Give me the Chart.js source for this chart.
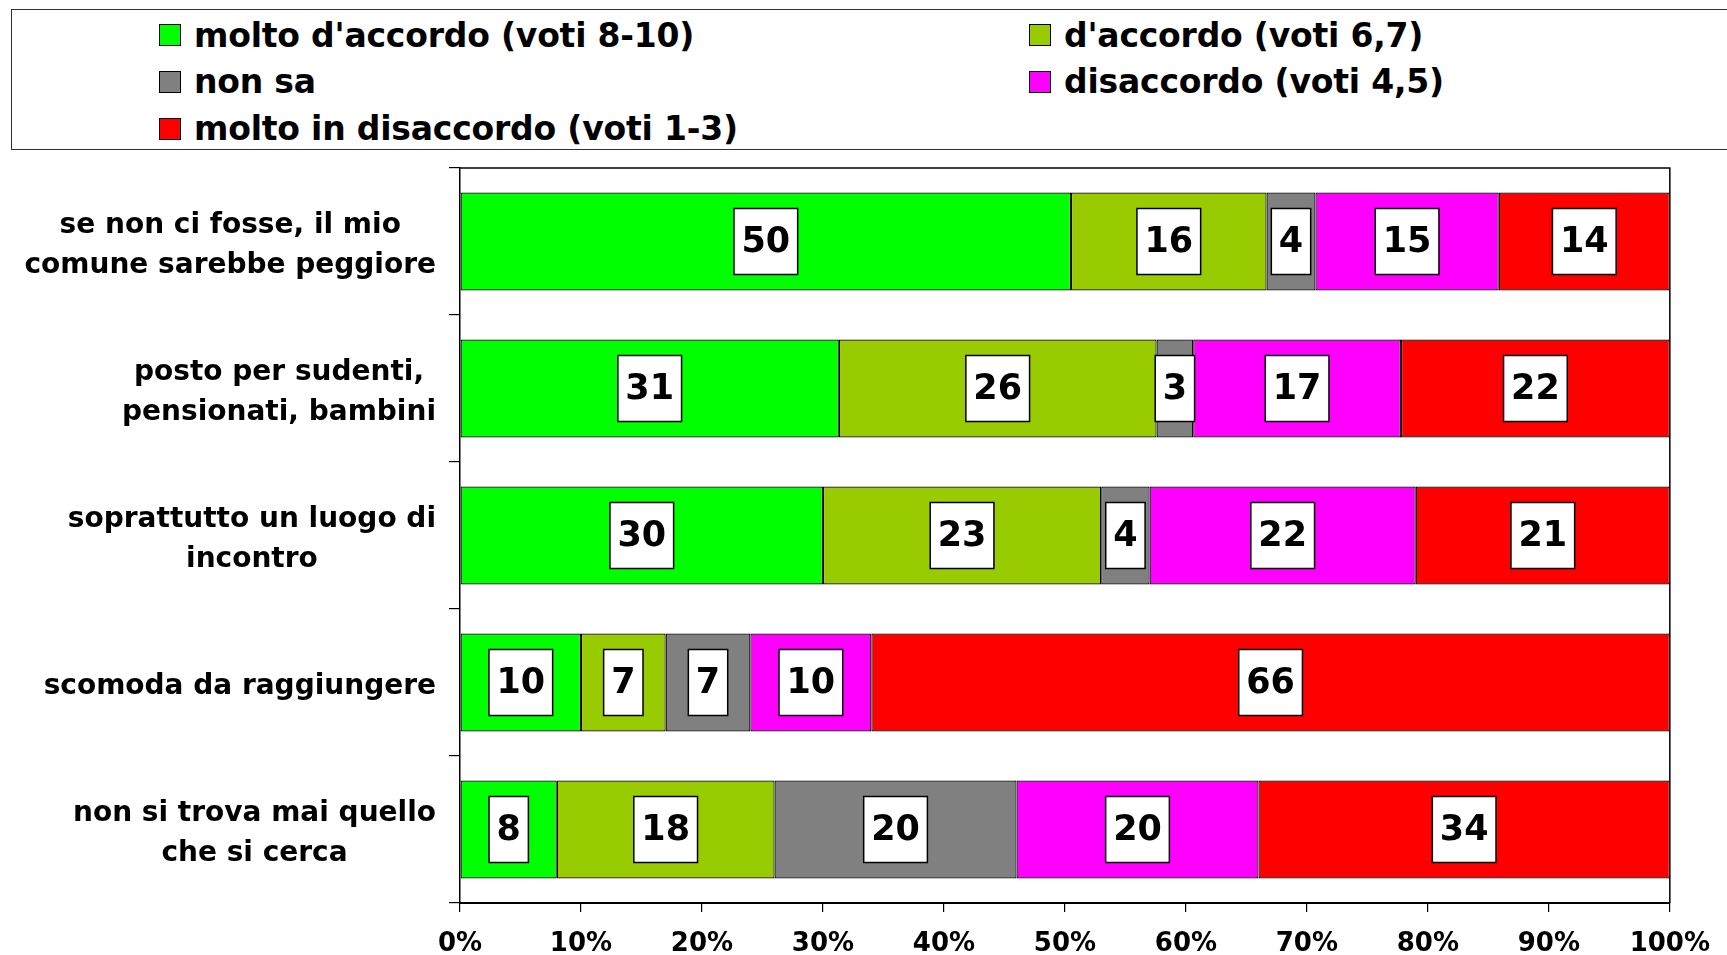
<!DOCTYPE html>
<html lang="it">
<head>
<meta charset="utf-8">
<title>Giudizi sul mercato</title>
<script src="https://cdn.jsdelivr.net/npm/chart.js@4.4.1/dist/chart.umd.min.js"></script>
<style>
  html, body { margin: 0; padding: 0; background: #ffffff; }
  #wrap { position: relative; width: 1727px; height: 955px; overflow: hidden; }
  #chart { position: absolute; left: 0; top: 0; }
  #legendBox {
    position: absolute; left: 11px; top: 9px; width: 1730px; height: 141px;
    border: 1.5px solid #303030; box-sizing: border-box; background: #fff;
  }
  .lg-item {
    position: absolute; height: 40px; display: flex; align-items: center;
    font-family: "DejaVu Sans", sans-serif; font-weight: bold; font-size: 33px;
    color: #000; white-space: nowrap; letter-spacing: -0.2px;
  }
  .lg-swatch {
    width: 22px; height: 22px; box-sizing: border-box;
    border: 1.5px solid #000; margin-right: 13px; flex: none;
  }
</style>
</head>
<body>
<div id="wrap">
  <canvas id="chart" width="1727" height="955"></canvas>
  <div id="legendBox"></div>
</div>
<script>
// Statements (one bar each)
const categories = [
  ["se non ci fosse, il mio", "comune sarebbe peggiore"],
  ["posto per sudenti,", "pensionati, bambini"],
  ["soprattutto un luogo di", "incontro"],
  ["scomoda da raggiungere"],
  ["non si trova mai quello", "che si cerca"]
];

// Answer groups, in stacking order
const seriesNames = [
  "molto d'accordo (voti 8-10)",
  "d'accordo (voti 6,7)",
  "non sa",
  "disaccordo (voti 4,5)",
  "molto in disaccordo (voti 1-3)"
];
const seriesColors = ["#00ff00", "#99cc00", "#808080", "#ff00ff", "#ff0000"];

// Answer shares per statement
const moltoAccordo    = [50, 31, 30, 10, 8];
const accordo         = [16, 26, 23, 7, 18];
const nonSa           = [4, 3, 4, 7, 20];
const disaccordo      = [15, 17, 22, 10, 20];
const moltoDisaccordo = [14, 22, 21, 66, 34];

const seriesValues = [moltoAccordo, accordo, nonSa, disaccordo, moltoDisaccordo];

// X axis ticks
const xTicks = [0, 10, 20, 30, 40, 50, 60, 70, 80, 90, 100];

const FONT = '"DejaVu Sans", sans-serif';

// Each bar is scaled to 100% of its row total
const rowTotals = categories.map((_, i) =>
  seriesValues.reduce((s, arr) => s + arr[i], 0));

const datasets = seriesNames.map((name, k) => ({
  label: name,
  data: seriesValues[k].map((v, i) => v / rowTotals[i] * 100),
  rawValues: seriesValues[k],
  backgroundColor: seriesColors[k],
  borderColor: "#000000",
  borderWidth: 1.2,
  borderSkipped: false,
  barPercentage: 1.0,
  categoryPercentage: 0.667
}));

// Boxed value labels in the middle of each segment
const valueBoxes = {
  id: "valueBoxes",
  afterDatasetsDraw(chart) {
    const ctx = chart.ctx;
    ctx.save();
    ctx.font = "bold 35px " + FONT;
    ctx.textAlign = "center";
    ctx.textBaseline = "middle";
    chart.data.datasets.forEach((ds, k) => {
      const meta = chart.getDatasetMeta(k);
      meta.data.forEach((bar, i) => {
        const txt = String(ds.rawValues[i]);
        const cx = (bar.x + bar.base) / 2;
        const cy = bar.y;
        const w = ctx.measureText(txt).width + 15;
        const h = 66;
        ctx.fillStyle = "#ffffff";
        ctx.fillRect(cx - w / 2, cy - h / 2, w, h);
        ctx.lineWidth = 1.5;
        ctx.strokeStyle = "#000000";
        ctx.strokeRect(cx - w / 2, cy - h / 2, w, h);
        ctx.fillStyle = "#000000";
        ctx.fillText(txt, cx, cy + 1);
      });
    });
    ctx.restore();
  }
};

// Category labels: each block right-aligned to the axis, lines centred on each other
const categoryLabels = {
  id: "categoryLabels",
  afterDraw(chart) {
    const ctx = chart.ctx;
    const yScale = chart.scales.y;
    const rightEdge = yScale.right - 24;
    const lineGap = 40;
    ctx.save();
    ctx.font = "bold 28px " + FONT;
    ctx.fillStyle = "#000000";
    ctx.textAlign = "center";
    ctx.textBaseline = "middle";
    categories.forEach((lines, i) => {
      const cy = yScale.getPixelForTick(i) + 4;
      const maxW = Math.max(...lines.map(t => ctx.measureText(t).width));
      const cx = rightEdge - maxW / 2;
      const y0 = cy - (lines.length - 1) * lineGap / 2;
      lines.forEach((t, j) => ctx.fillText(t, cx, y0 + j * lineGap));
    });
    ctx.restore();
  }
};

// Top and right edges of the plot frame
const plotFrame = {
  id: "plotFrame",
  afterDraw(chart) {
    const a = chart.chartArea;
    const ctx = chart.ctx;
    ctx.save();
    ctx.strokeStyle = "#000000";
    ctx.lineWidth = 1.5;
    ctx.beginPath();
    ctx.moveTo(a.left, a.top);
    ctx.lineTo(a.right, a.top);
    ctx.lineTo(a.right, a.bottom);
    ctx.stroke();
    ctx.restore();
  }
};

new Chart(document.getElementById("chart"), {
  type: "bar",
  data: { labels: categories, datasets },
  options: {
    indexAxis: "y",
    responsive: false,
    animation: false,
    events: [],
    layout: { padding: { top: 168, right: 55, left: 0, bottom: 0 } },
    plugins: { legend: { display: false }, tooltip: { enabled: false } },
    scales: {
      x: {
        stacked: true,
        min: 0,
        max: 100,
        afterBuildTicks(scale) { scale.ticks = xTicks.map(v => ({ value: v })); },
        afterFit(scale) { scale.height = 52; },
        grid: {
          drawOnChartArea: false, drawTicks: true, tickLength: 9,
          color: "#000000", lineWidth: 1.2
        },
        border: { display: true, color: "#000000", width: 2 },
        ticks: {
          color: "#000000",
          font: { family: FONT, weight: "bold", size: 26 },
          padding: 17,
          maxRotation: 0,
          callback: v => v + "%"
        }
      },
      y: {
        stacked: true,
        afterFit(scale) { scale.width = 460; },
        grid: {
          offset: true, drawOnChartArea: false, drawTicks: true, tickLength: 11,
          color: "#000000", lineWidth: 1.2
        },
        border: { display: true, color: "#000000", width: 1.5 },
        ticks: { display: false }
      }
    }
  },
  plugins: [valueBoxes, categoryLabels, plotFrame]
});

// Two-column legend inside a framed box
const legendBox = document.getElementById("legendBox");
const colLeft = [147, 1017];
const rowCenters = [25, 71.5, 118.5];
seriesNames.forEach((name, k) => {
  const item = document.createElement("div");
  item.className = "lg-item";
  item.style.left = colLeft[k % 2] + "px";
  item.style.top = (rowCenters[Math.floor(k / 2)] - 20) + "px";
  const sw = document.createElement("span");
  sw.className = "lg-swatch";
  sw.style.background = seriesColors[k];
  const tx = document.createElement("span");
  tx.textContent = name;
  item.appendChild(sw);
  item.appendChild(tx);
  legendBox.appendChild(item);
});
</script>
</body>
</html>
